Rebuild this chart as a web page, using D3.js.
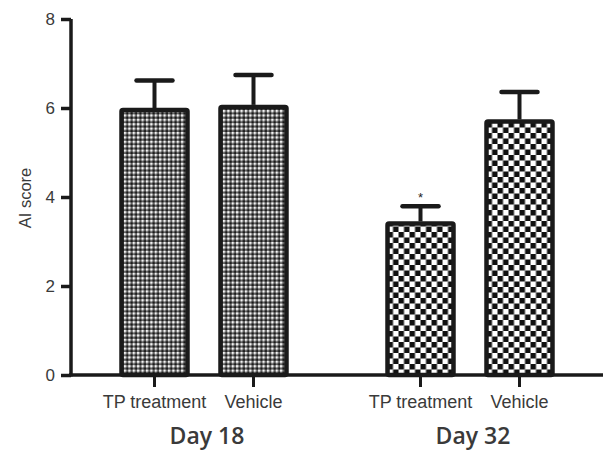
<!DOCTYPE html>
<html>
  <head>
    <style>
     body{
         margin: 0;
         background-color: #fff;
     }
     .tick text{
         font-family: "Liberation Sans", Arial, sans-serif;
         fill: #3a3a3a;
     }
    </style>
    <script src="https://d3js.org/d3.v7.min.js"></script>
    <title>AI score</title>
  </head>
  <body>
    <script>
    // data
    const days = ["Day 18", "Day 32"];
    const groups = ["TP treatment", "Vehicle"];
    const means = [[6.0, 6.07], [3.45, 5.74]];
    const sems = [[0.62, 0.67], [0.34, 0.62]];
    const stars = [["", ""], ["*", ""]];
    const yTicks = [0, 2, 4, 6, 8];

    const w = 603;
    const h = 451;

    const svg = d3.select("body")
                  .append("svg")
                  .attr("width", w)
                  .attr("height", h);

    // patterns: fine for day 18, coarse checker for day 32
    const defs = svg.append("defs");
    const fine = defs.append("pattern")
        .attr("id", "fine").attr("patternUnits", "userSpaceOnUse")
        .attr("width", 4.4).attr("height", 4.4);
    fine.append("rect").attr("width", 4.4).attr("height", 4.4).attr("fill", "#666");
    fine.append("rect").attr("width", 2.2).attr("height", 2.2).attr("fill", "#f4f4f4");
    fine.append("rect").attr("x", 2.2).attr("y", 2.2).attr("width", 2.2).attr("height", 2.2).attr("fill", "#1a1a1a");

    const coarse = defs.append("pattern")
        .attr("id", "coarse").attr("patternUnits", "userSpaceOnUse")
        .attr("width", 11).attr("height", 11).attr("x", 2).attr("y", 1);
    coarse.append("rect").attr("width", 11).attr("height", 11).attr("fill", "#fff");
    coarse.append("rect").attr("width", 5.5).attr("height", 5.5).attr("fill", "#111");
    coarse.append("rect").attr("x", 5.5).attr("y", 5.5).attr("width", 5.5).attr("height", 5.5).attr("fill", "#111");

    const xDay = d3.scaleBand().domain(days).range([71, 603]);
    const xGroup = d3.scaleBand().domain(groups)
                     .range([0, xDay.bandwidth()])
                     .paddingInner(0.293).paddingOuter(0.49);
    const yScale = d3.scaleLinear().domain([0, 8]).range([375, 19]);

    const rows = [];
    days.forEach((d, i) => groups.forEach((g, j) => {
        rows.push({day: d, group: g, mean: means[i][j], sem: sems[i][j], star: stars[i][j], pat: i === 0 ? "fine" : "coarse"});
    }));

    const bw = xGroup.bandwidth();
    const bars = svg.append("g").selectAll("g")
       .data(rows)
       .enter()
       .append("g")
       .attr("transform", d => "translate(" + (xDay(d.day) + xGroup(d.group)) + ",0)");

    // error bars
    bars.append("line")
        .attr("x1", bw / 2).attr("x2", bw / 2)
        .attr("y1", d => yScale(d.mean)).attr("y2", d => yScale(d.mean + d.sem))
        .attr("stroke", "#1a1a1a").attr("stroke-width", 4);
    bars.append("line")
        .attr("x1", bw / 2 - 18).attr("x2", bw / 2 + 18)
        .attr("y1", d => yScale(d.mean + d.sem)).attr("y2", d => yScale(d.mean + d.sem))
        .attr("stroke", "#1a1a1a").attr("stroke-width", 4.5).attr("stroke-linecap", "round");

    bars.append("rect")
        .attr("x", 2)
        .attr("y", d => yScale(d.mean) + 2)
        .attr("width", bw - 4)
        .attr("height", d => yScale(0) - yScale(d.mean) - 2)
        .attr("fill", d => "url(#" + d.pat + ")")
        .attr("stroke", "#1a1a1a")
        .attr("stroke-width", 4.5)
        .attr("rx", 1.5);

    bars.append("text")
        .attr("x", bw / 2)
        .attr("y", d => yScale(d.mean + d.sem) - 4)
        .attr("text-anchor", "middle")
        .attr("font-family", "Liberation Sans, Arial, sans-serif")
        .attr("font-size", 13)
        .attr("fill", "#222")
        .text(d => d.star);

    // axes
    const yAxis = d3.axisLeft(yScale).tickValues(yTicks).tickSize(10).tickPadding(6);
    const gy = svg.append("g").attr("transform", "translate(71,0)").call(yAxis);
    gy.select(".domain").attr("stroke", "#1a1a1a").attr("stroke-width", 3.5)
      .attr("d", "M0," + yScale(8) + "V" + (yScale(0) + 1.5));
    gy.selectAll(".tick line").attr("stroke", "#1a1a1a").attr("stroke-width", 3.5);
    gy.selectAll(".tick text").attr("font-size", 17);

    const gx = svg.append("g").attr("transform", "translate(0,375)");
    gx.append("line").attr("x1", 69).attr("x2", 603).attr("y1", 0).attr("y2", 0)
      .attr("stroke", "#1a1a1a").attr("stroke-width", 3.5);
    gx.selectAll(".xt")
      .data(rows)
      .enter()
      .append("line")
      .attr("x1", d => xDay(d.day) + xGroup(d.group) + bw / 2)
      .attr("x2", d => xDay(d.day) + xGroup(d.group) + bw / 2)
      .attr("y1", 0).attr("y2", 12)
      .attr("stroke", "#1a1a1a").attr("stroke-width", 3);
    gx.selectAll(".xl")
      .data(rows)
      .enter()
      .append("text")
      .attr("x", d => xDay(d.day) + xGroup(d.group) + bw / 2)
      .attr("y", 33)
      .attr("text-anchor", "middle")
      .attr("font-family", "Liberation Sans, Arial, sans-serif")
      .attr("font-size", 18)
      .attr("fill", "#3a3a3a")
      .text(d => d.group);
    gx.selectAll(".dl")
      .data(days)
      .enter()
      .append("text")
      .attr("x", d => xDay(d) + xDay.bandwidth() / 2 + 3)
      .attr("y", 69)
      .attr("text-anchor", "middle")
      .attr("font-family", "Open Sans, sans-serif")
      .attr("font-weight", 600)
      .attr("font-size", 23)
      .attr("fill", "#3a3a3a")
      .text(d => d);

    svg.append("text")
       .attr("transform", "translate(31,198) rotate(-90)")
       .attr("text-anchor", "middle")
       .attr("font-family", "Liberation Sans, Arial, sans-serif")
       .attr("font-size", 16.5)
       .attr("fill", "#3a3a3a")
       .text("AI score");
    </script>
  </body>
</html>
